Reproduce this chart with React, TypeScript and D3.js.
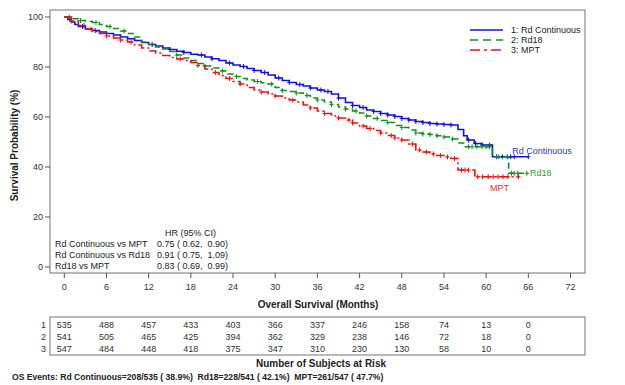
import React from 'react';
import * as d3 from 'd3';

// Kaplan-Meier step points [month, survival %]
const rdContinuous: [number, number][] = [
  [0, 100], [0.5, 99], [1, 98], [1.5, 97], [2, 96.2], [3, 95.2], [4, 94.6], [5, 94], [6, 93.4],
  [7, 92.8], [8, 92], [9, 91.3], [10, 90.6], [11, 89.8], [12, 89], [13, 88.4], [14, 87.6],
  [15, 87], [16, 86.3], [17, 85.8], [18, 85.1], [19, 84.8], [20, 84], [21, 83.3], [22, 82.6],
  [23, 81.6], [24, 80.8], [25, 80.2], [26, 79.4], [27, 78.6], [28, 77.8], [29, 76.8], [30, 75.6],
  [31, 74.6], [32, 73.8], [33, 73], [34, 72.4], [35, 71.6], [36, 70.8], [37, 70.2], [38, 69.2],
  [39, 67.6], [40, 65.8], [41, 64.6], [42, 63.8], [43, 62.8], [44, 62.2], [45, 61.4], [46, 60.8],
  [47, 60.2], [48, 59.4], [49, 58.8], [50, 58.2], [51, 57.8], [52, 57.4], [53, 57.2], [54, 57],
  [55, 56.8], [56, 55], [56.8, 52.5], [57.3, 50.8], [58.3, 49.4], [59.3, 48.8], [60.9, 44.1], [66, 44.1],
];
const rd18: [number, number][] = [
  [0, 100], [1, 99.3], [2, 98.6], [3, 98.2], [4, 97.8], [5, 97], [6, 96.2], [7, 95.4], [8, 94.4],
  [9, 93.4], [10, 92], [11, 90], [12, 89], [13, 88], [14, 87.2], [15, 86.2], [16, 84.8], [17, 83.6],
  [18, 82.6], [19, 81.4], [20, 80.4], [21, 79.6], [22, 78.4], [23, 77.2], [24, 76.2], [25, 75.4],
  [26, 74.8], [27, 74.2], [28, 73.7], [29, 73.2], [30, 71.8], [31, 70.6], [32, 70.2], [33, 69.6],
  [34, 68.6], [35, 67.6], [36, 66.8], [37, 66], [38, 65], [39, 64], [40, 63.2], [41, 62.4],
  [42, 61.6], [43, 60.4], [44, 59.4], [45, 58.6], [46, 57.8], [47, 56.6], [48, 55.8], [49, 54.8],
  [50, 53.6], [51, 53.2], [52, 53], [53, 52.5], [54, 52], [55, 51.2], [56, 49.6], [56.8, 48.1],
  [60.9, 44.1], [63.2, 37.5], [65.8, 37.5],
];
const mpt: [number, number][] = [
  [0, 100], [1, 98.4], [2, 96.6], [3, 95.2], [4, 94.2], [5, 93.4], [6, 92.4], [7, 91.6], [8, 90.8],
  [9, 90], [10, 88.8], [11, 87.6], [12, 86.4], [13, 85.6], [14, 84.6], [15, 83.8], [16, 83.2],
  [17, 82.6], [18, 81.8], [19, 80.6], [20, 79.2], [21, 77.8], [22, 76.6], [23, 75.4], [24, 74.2],
  [25, 73.2], [26, 71.8], [27, 70.8], [28, 70], [29, 69.2], [30, 68.4], [31, 67.6], [32, 66.8],
  [33, 66], [34, 64.8], [35, 63.6], [36, 62.4], [37, 61.4], [38, 60.4], [39, 59.6], [40, 58.8],
  [41, 57.6], [42, 56.4], [43, 55.4], [44, 54.6], [45, 53.6], [46, 52.6], [47, 51.6], [48, 50.8],
  [49, 49.2], [50, 46.8], [51, 46], [52, 45.2], [53, 44.6], [54, 44], [55, 43.4], [56, 38.8],
  [58.4, 36.1], [64.6, 36.1],
];

// censored times (months)
const rdCensor = [0.8, 2.6, 4.4, 12.5, 15, 17, 19.5, 21, 23.5, 25.5, 27, 28.5, 30.5, 32, 33.5, 35,
  36.5, 37.5, 39, 41, 42.5, 44, 45, 46, 47, 48, 49, 50, 51, 52, 53, 54, 55, 57.5, 58.5, 59.5, 60.5,
  61.5, 62.3, 63, 63.5, 64, 66];
const rd18Censor = [0.7, 2.3, 4.5, 6.5, 8.5, 16, 20, 22.5, 24.5, 27.5, 29.5, 31, 33, 34.5, 36, 38,
  40, 41.5, 43, 44.5, 46, 48, 50, 51, 52, 53, 54, 55.2, 57.5, 58, 58.7, 59.4, 60, 60.5, 61.8, 63.6,
  64, 64.5, 65.8];
const mptCensor = [1, 2.8, 3.8, 6, 8, 9.5, 16.5, 19, 21.5, 23.5, 25, 28, 30, 32.5, 35, 37, 39, 40.5,
  41, 42.5, 43.5, 45, 46.5, 47, 48, 49.5, 50.5, 51.5, 52.5, 53.5, 54.5, 55.5, 56.5, 57, 57.5, 58.8,
  59.5, 60.3, 61, 61.7, 62.4, 63.1, 64.6];

const xTicks = [0, 6, 12, 18, 24, 30, 36, 42, 48, 54, 60, 66, 72];
const yTicks = [0, 20, 40, 60, 80, 100];

const riskTimes = [0, 6, 12, 18, 24, 30, 36, 42, 48, 54, 60, 66];
const riskRd = [535, 488, 457, 433, 403, 366, 337, 246, 158, 74, 13, 0];
const riskRd18 = [541, 505, 465, 425, 394, 362, 329, 238, 146, 72, 18, 0];
const riskMpt = [547, 484, 448, 418, 375, 347, 310, 230, 130, 58, 10, 0];

const legendLabels = ['1: Rd Continuous', '2: Rd18', '3: MPT'];
const endLabels = ['Rd Continuous', 'Rd18', 'MPT'];
const hrRows = ['Rd Continuous vs MPT', 'Rd Continuous vs Rd18', 'Rd18 vs MPT'];
const hrValues = ['0.75 ( 0.62,  0.90)', '0.91 ( 0.75,  1.09)', '0.83 ( 0.69,  0.99)'];

const font = 'Arial, "Liberation Sans", sans-serif';

export default function App() {
  const width = 625;
  const height = 385;
  const frame = { left: 50, right: 585, top: 10, bottom: 273 };

  const x = d3.scaleLinear().domain([0, 72]).range([64.3, 570.5]);
  const y = d3.scaleLinear().domain([0, 100]).range([267, 17]);

  const line = d3.line<[number, number]>()
    .x(d => x(d[0]))
    .y(d => y(d[1]))
    .curve(d3.curveStepAfter);

  const series = [
    { data: rdContinuous, censor: rdCensor, color: '#1010e0', label: '#3030d0', dash: undefined },
    { data: rd18, censor: rd18Censor, color: '#10901a', label: '#30a030', dash: '6,4' },
    { data: mpt, censor: mptCensor, color: '#ee1010', label: '#e03030', dash: '9,3,2,3' },
  ];

  const bis = d3.bisector((d: [number, number]) => d[0]).right;
  const survAt = (data: [number, number][], t: number) => {
    const i = Math.max(0, bis(data, t) - 1);
    return data[i][1];
  };

  const endPos = [
    { dx: -16, dy: -3, anchor: 'start' },
    { dx: 3, dy: 3, anchor: 'start' },
    { dx: -19, dy: 14, anchor: 'middle' },
  ];

  const riskRows = [riskRd, riskRd18, riskMpt];
  const table = { top: 317, bottom: 355 };

  return (
    <svg width={width} height={height} style={{ position: 'absolute', left: 0, top: 0, background: '#fff' }}
      fontFamily={font}>
      <rect x={0} y={0} width={width} height={height} fill="#fff" />
      {/* frame */}
      <rect x={frame.left} y={frame.top} width={frame.right - frame.left} height={frame.bottom - frame.top}
        fill="none" stroke="#8a8a8a" strokeWidth={1.2} />

      {/* y axis */}
      {yTicks.map(t => (
        <g key={'y' + t}>
          <line x1={frame.left - 5} x2={frame.left} y1={y(t)} y2={y(t)} stroke="#555" />
          <text x={frame.left - 7} y={y(t)} dy="0.35em" textAnchor="end" fontSize={9} fill="#333">{t}</text>
        </g>
      ))}
      <text transform={`translate(18,${(frame.top + frame.bottom) / 2 + 4}) rotate(-90)`} textAnchor="middle"
        fontSize={10} fontWeight="bold" fill="#222">Survival Probability (%)</text>

      {/* x axis */}
      {xTicks.map(t => (
        <g key={'x' + t}>
          <line x1={x(t)} x2={x(t)} y1={frame.bottom} y2={frame.bottom + 5} stroke="#555" />
          <text x={x(t)} y={287} dy="0.35em" textAnchor="middle" fontSize={9} fill="#333">{t}</text>
        </g>
      ))}
      <text x={318} y={304} dy="0.35em" textAnchor="middle" fontSize={10} fontWeight="bold" fill="#222">
        Overall Survival (Months)
      </text>

      {/* curves */}
      {series.map((s, i) => (
        <g key={'s' + i}>
          <path d={line(s.data) || ''} fill="none" stroke={s.color} strokeWidth={1.6}
            strokeDasharray={s.dash} />
          {s.censor.map((t, j) => {
            const yy = y(survAt(s.data, t));
            return (
              <g key={j} stroke={s.color} strokeWidth={1}>
                <line x1={x(t)} x2={x(t)} y1={yy - 2.5} y2={yy + 2.5} />
                <line x1={x(t) - 2} x2={x(t) + 2} y1={yy} y2={yy} />
              </g>
            );
          })}
          <text x={x(s.data[s.data.length - 1][0]) + endPos[i].dx}
            y={y(s.data[s.data.length - 1][1]) + endPos[i].dy}
            textAnchor={endPos[i].anchor} fontSize={9} fill={s.label}>{endLabels[i]}</text>
        </g>
      ))}

      {/* legend */}
      {series.map((s, i) => (
        <g key={'l' + i}>
          <line x1={470} x2={503} y1={30 + i * 10} y2={30 + i * 10} stroke={s.color} strokeWidth={1.6}
            strokeDasharray={s.dash ? (i === 1 ? '8,5' : '10,4,3,4') : undefined} />
          <text x={511} y={30 + i * 10} dy="0.35em" fontSize={9} fill="#222">{legendLabels[i]}</text>
        </g>
      ))}

      {/* HR table */}
      <text x={165} y={232.5} dy="0.35em" fontSize={9} fill="#222">HR (95% CI)</text>
      {hrRows.map((r, i) => (
        <g key={'hr' + i}>
          <text x={55} y={244 + i * 11} dy="0.35em" fontSize={9} fill="#222">{r}</text>
          <text x={157} y={244 + i * 11} dy="0.35em" fontSize={9} fill="#222" xmlSpace="preserve">{hrValues[i]}</text>
        </g>
      ))}

      {/* risk table */}
      <rect x={frame.left} y={table.top} width={frame.right - frame.left} height={table.bottom - table.top}
        fill="none" stroke="#8a8a8a" strokeWidth={1.2} />
      {riskRows.map((row, i) => (
        <g key={'r' + i}>
          <text x={46} y={324.5 + i * 12.3} dy="0.35em" textAnchor="end" fontSize={9} fill="#333">{i + 1}</text>
          {row.map((v, j) => (
            <text key={j} x={x(riskTimes[j])} y={324.5 + i * 12.3} dy="0.35em" textAnchor="middle"
              fontSize={9} fill="#333">{v}</text>
          ))}
        </g>
      ))}
      <text x={321} y={363} dy="0.35em" textAnchor="middle" fontSize={10} fontWeight="bold" fill="#222">
        Number of Subjects at Risk
      </text>
      <text x={12} y={377} dy="0.35em" fontSize={8.6} fontWeight="bold" fill="#222" xmlSpace="preserve">
        OS Events: Rd Continuous=208/535 ( 38.9%)  Rd18=228/541 ( 42.1%)  MPT=261/547 ( 47.7%)
      </text>
    </svg>
  );
}
